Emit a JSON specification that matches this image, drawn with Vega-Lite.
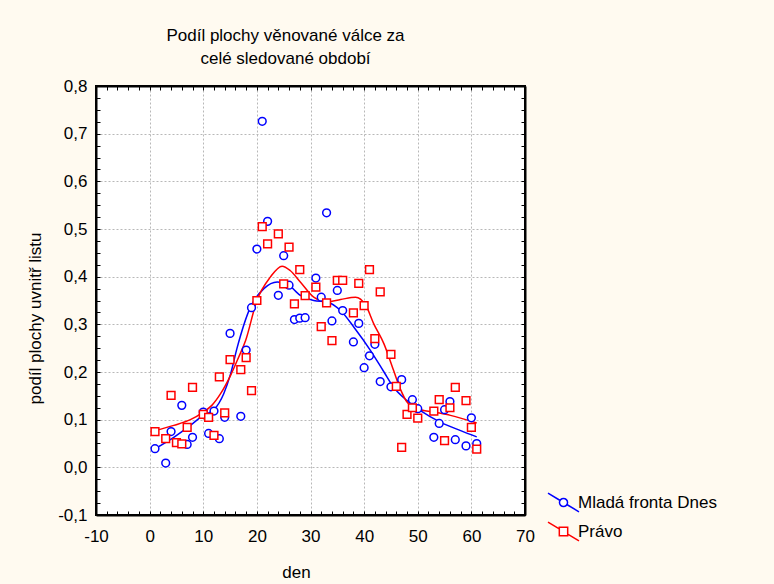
{
  "$schema": "https://vega.github.io/schema/vega-lite/v6.json",
  "autosize": "none",
  "width": 429,
  "height": 429,
  "padding": {"left": 96, "top": 86, "right": 249, "bottom": 69},
  "background": "#FFFAF0",
  "title": {
    "text": ["Podíl plochy věnované válce za", "celé sledované období"],
    "anchor": "middle",
    "dx": -25,
    "offset": 9,
    "font": "Liberation Sans",
    "fontSize": 17,
    "fontWeight": "normal",
    "lineHeight": 23,
    "color": "black"
  },
  "config": {
    "view": {"fill": "white", "stroke": "black", "strokeWidth": 2},
    "axis": {
      "labelFont": "Liberation Sans",
      "labelFontSize": 17,
      "labelColor": "black",
      "titleFont": "Liberation Sans",
      "titleFontSize": 17,
      "titleFontWeight": "normal",
      "titleColor": "black",
      "domainColor": "black",
      "domainWidth": 2,
      "tickColor": "black",
      "tickWidth": 1,
      "labelOverlap": false,
      "labelFlush": false
    },
    "legend": {
      "labelFont": "Liberation Sans",
      "labelFontSize": 17,
      "labelColor": "black"
    }
  },
  "datasets": {
    "pts": [
      {"noviny": "Mladá fronta Dnes", "den": 1, "podil": 0.039},
      {"noviny": "Mladá fronta Dnes", "den": 3, "podil": 0.009},
      {"noviny": "Mladá fronta Dnes", "den": 4, "podil": 0.075},
      {"noviny": "Mladá fronta Dnes", "den": 6, "podil": 0.130},
      {"noviny": "Mladá fronta Dnes", "den": 7, "podil": 0.048},
      {"noviny": "Mladá fronta Dnes", "den": 8, "podil": 0.063},
      {"noviny": "Mladá fronta Dnes", "den": 10, "podil": 0.116},
      {"noviny": "Mladá fronta Dnes", "den": 11, "podil": 0.071},
      {"noviny": "Mladá fronta Dnes", "den": 12, "podil": 0.118},
      {"noviny": "Mladá fronta Dnes", "den": 13, "podil": 0.060},
      {"noviny": "Mladá fronta Dnes", "den": 14, "podil": 0.105},
      {"noviny": "Mladá fronta Dnes", "den": 15, "podil": 0.281},
      {"noviny": "Mladá fronta Dnes", "den": 17, "podil": 0.107},
      {"noviny": "Mladá fronta Dnes", "den": 18, "podil": 0.246},
      {"noviny": "Mladá fronta Dnes", "den": 19, "podil": 0.335},
      {"noviny": "Mladá fronta Dnes", "den": 20, "podil": 0.458},
      {"noviny": "Mladá fronta Dnes", "den": 21, "podil": 0.726},
      {"noviny": "Mladá fronta Dnes", "den": 22, "podil": 0.516},
      {"noviny": "Mladá fronta Dnes", "den": 24, "podil": 0.361},
      {"noviny": "Mladá fronta Dnes", "den": 25, "podil": 0.444},
      {"noviny": "Mladá fronta Dnes", "den": 26, "podil": 0.382},
      {"noviny": "Mladá fronta Dnes", "den": 27, "podil": 0.310},
      {"noviny": "Mladá fronta Dnes", "den": 28, "podil": 0.313},
      {"noviny": "Mladá fronta Dnes", "den": 29, "podil": 0.314},
      {"noviny": "Mladá fronta Dnes", "den": 31, "podil": 0.397},
      {"noviny": "Mladá fronta Dnes", "den": 32, "podil": 0.357},
      {"noviny": "Mladá fronta Dnes", "den": 33, "podil": 0.534},
      {"noviny": "Mladá fronta Dnes", "den": 34, "podil": 0.307},
      {"noviny": "Mladá fronta Dnes", "den": 35, "podil": 0.371},
      {"noviny": "Mladá fronta Dnes", "den": 36, "podil": 0.329},
      {"noviny": "Mladá fronta Dnes", "den": 38, "podil": 0.263},
      {"noviny": "Mladá fronta Dnes", "den": 39, "podil": 0.302},
      {"noviny": "Mladá fronta Dnes", "den": 40, "podil": 0.209},
      {"noviny": "Mladá fronta Dnes", "den": 41, "podil": 0.234},
      {"noviny": "Mladá fronta Dnes", "den": 42, "podil": 0.258},
      {"noviny": "Mladá fronta Dnes", "den": 43, "podil": 0.180},
      {"noviny": "Mladá fronta Dnes", "den": 45, "podil": 0.169},
      {"noviny": "Mladá fronta Dnes", "den": 47, "podil": 0.184},
      {"noviny": "Mladá fronta Dnes", "den": 49, "podil": 0.142},
      {"noviny": "Mladá fronta Dnes", "den": 50, "podil": 0.123},
      {"noviny": "Mladá fronta Dnes", "den": 53, "podil": 0.063},
      {"noviny": "Mladá fronta Dnes", "den": 54, "podil": 0.092},
      {"noviny": "Mladá fronta Dnes", "den": 55, "podil": 0.121},
      {"noviny": "Mladá fronta Dnes", "den": 56, "podil": 0.138},
      {"noviny": "Mladá fronta Dnes", "den": 57, "podil": 0.058},
      {"noviny": "Mladá fronta Dnes", "den": 59, "podil": 0.045},
      {"noviny": "Mladá fronta Dnes", "den": 60, "podil": 0.104},
      {"noviny": "Mladá fronta Dnes", "den": 61, "podil": 0.050},
      {"noviny": "Právo", "den": 1, "podil": 0.075},
      {"noviny": "Právo", "den": 3, "podil": 0.060},
      {"noviny": "Právo", "den": 4, "podil": 0.151},
      {"noviny": "Právo", "den": 5, "podil": 0.052},
      {"noviny": "Právo", "den": 6, "podil": 0.049},
      {"noviny": "Právo", "den": 7, "podil": 0.084},
      {"noviny": "Právo", "den": 8, "podil": 0.168},
      {"noviny": "Právo", "den": 10, "podil": 0.111},
      {"noviny": "Právo", "den": 11, "podil": 0.105},
      {"noviny": "Právo", "den": 12, "podil": 0.067},
      {"noviny": "Právo", "den": 13, "podil": 0.190},
      {"noviny": "Právo", "den": 14, "podil": 0.114},
      {"noviny": "Právo", "den": 15, "podil": 0.226},
      {"noviny": "Právo", "den": 17, "podil": 0.205},
      {"noviny": "Právo", "den": 18, "podil": 0.230},
      {"noviny": "Právo", "den": 19, "podil": 0.161},
      {"noviny": "Právo", "den": 20, "podil": 0.350},
      {"noviny": "Právo", "den": 21, "podil": 0.505},
      {"noviny": "Právo", "den": 22, "podil": 0.469},
      {"noviny": "Právo", "den": 24, "podil": 0.490},
      {"noviny": "Právo", "den": 25, "podil": 0.385},
      {"noviny": "Právo", "den": 26, "podil": 0.462},
      {"noviny": "Právo", "den": 27, "podil": 0.343},
      {"noviny": "Právo", "den": 28, "podil": 0.415},
      {"noviny": "Právo", "den": 29, "podil": 0.360},
      {"noviny": "Právo", "den": 31, "podil": 0.378},
      {"noviny": "Právo", "den": 32, "podil": 0.295},
      {"noviny": "Právo", "den": 33, "podil": 0.345},
      {"noviny": "Právo", "den": 34, "podil": 0.266},
      {"noviny": "Právo", "den": 35, "podil": 0.392},
      {"noviny": "Právo", "den": 36, "podil": 0.392},
      {"noviny": "Právo", "den": 38, "podil": 0.324},
      {"noviny": "Právo", "den": 39, "podil": 0.386},
      {"noviny": "Právo", "den": 40, "podil": 0.339},
      {"noviny": "Právo", "den": 41, "podil": 0.415},
      {"noviny": "Právo", "den": 42, "podil": 0.270},
      {"noviny": "Právo", "den": 43, "podil": 0.368},
      {"noviny": "Právo", "den": 45, "podil": 0.237},
      {"noviny": "Právo", "den": 46, "podil": 0.170},
      {"noviny": "Právo", "den": 47, "podil": 0.042},
      {"noviny": "Právo", "den": 48, "podil": 0.111},
      {"noviny": "Právo", "den": 49, "podil": 0.125},
      {"noviny": "Právo", "den": 50, "podil": 0.103},
      {"noviny": "Právo", "den": 53, "podil": 0.118},
      {"noviny": "Právo", "den": 54, "podil": 0.142},
      {"noviny": "Právo", "den": 55, "podil": 0.056},
      {"noviny": "Právo", "den": 56, "podil": 0.125},
      {"noviny": "Právo", "den": 57, "podil": 0.168},
      {"noviny": "Právo", "den": 59, "podil": 0.140},
      {"noviny": "Právo", "den": 60, "podil": 0.084},
      {"noviny": "Právo", "den": 61, "podil": 0.038}
    ],
    "curve": [
      {"noviny": "Mladá fronta Dnes", "den": 1, "podil": 0.039},
      {"noviny": "Mladá fronta Dnes", "den": 4.5, "podil": 0.063},
      {"noviny": "Mladá fronta Dnes", "den": 7.6, "podil": 0.088},
      {"noviny": "Mladá fronta Dnes", "den": 10, "podil": 0.109},
      {"noviny": "Mladá fronta Dnes", "den": 12, "podil": 0.121},
      {"noviny": "Mladá fronta Dnes", "den": 13.8, "podil": 0.154},
      {"noviny": "Mladá fronta Dnes", "den": 15.1, "podil": 0.196},
      {"noviny": "Mladá fronta Dnes", "den": 16.3, "podil": 0.25},
      {"noviny": "Mladá fronta Dnes", "den": 18.8, "podil": 0.336},
      {"noviny": "Mladá fronta Dnes", "den": 21.3, "podil": 0.375},
      {"noviny": "Mladá fronta Dnes", "den": 23.8, "podil": 0.389},
      {"noviny": "Mladá fronta Dnes", "den": 25.6, "podil": 0.385},
      {"noviny": "Mladá fronta Dnes", "den": 28.1, "podil": 0.361},
      {"noviny": "Mladá fronta Dnes", "den": 30.6, "podil": 0.35},
      {"noviny": "Mladá fronta Dnes", "den": 33.1, "podil": 0.347},
      {"noviny": "Mladá fronta Dnes", "den": 35.6, "podil": 0.329},
      {"noviny": "Mladá fronta Dnes", "den": 38.1, "podil": 0.294},
      {"noviny": "Mladá fronta Dnes", "den": 41.2, "podil": 0.245},
      {"noviny": "Mladá fronta Dnes", "den": 43.7, "podil": 0.2},
      {"noviny": "Mladá fronta Dnes", "den": 45.5, "podil": 0.168},
      {"noviny": "Mladá fronta Dnes", "den": 48, "podil": 0.14},
      {"noviny": "Mladá fronta Dnes", "den": 50.5, "podil": 0.119},
      {"noviny": "Mladá fronta Dnes", "den": 54.2, "podil": 0.095},
      {"noviny": "Mladá fronta Dnes", "den": 58, "podil": 0.077},
      {"noviny": "Mladá fronta Dnes", "den": 61, "podil": 0.064},
      {"noviny": "Právo", "den": 1, "podil": 0.077},
      {"noviny": "Právo", "den": 4.5, "podil": 0.088},
      {"noviny": "Právo", "den": 7.6, "podil": 0.1},
      {"noviny": "Právo", "den": 10, "podil": 0.116},
      {"noviny": "Právo", "den": 11.6, "podil": 0.13},
      {"noviny": "Právo", "den": 13.2, "podil": 0.154},
      {"noviny": "Právo", "den": 15.1, "podil": 0.193},
      {"noviny": "Právo", "den": 16.6, "podil": 0.231},
      {"noviny": "Právo", "den": 17.9, "podil": 0.266},
      {"noviny": "Právo", "den": 20, "podil": 0.35},
      {"noviny": "Právo", "den": 22.5, "podil": 0.399},
      {"noviny": "Právo", "den": 24.7, "podil": 0.422},
      {"noviny": "Právo", "den": 26.2, "podil": 0.413},
      {"noviny": "Právo", "den": 28.1, "podil": 0.389},
      {"noviny": "Právo", "den": 30.6, "podil": 0.357},
      {"noviny": "Právo", "den": 33.1, "podil": 0.347},
      {"noviny": "Právo", "den": 35.6, "podil": 0.352},
      {"noviny": "Právo", "den": 38.4, "podil": 0.357},
      {"noviny": "Právo", "den": 40.3, "podil": 0.34},
      {"noviny": "Právo", "den": 41.8, "podil": 0.301},
      {"noviny": "Právo", "den": 43.7, "podil": 0.259},
      {"noviny": "Právo", "den": 45.5, "podil": 0.203},
      {"noviny": "Právo", "den": 46.8, "podil": 0.163},
      {"noviny": "Právo", "den": 48, "podil": 0.137},
      {"noviny": "Právo", "den": 49.9, "podil": 0.123},
      {"noviny": "Právo", "den": 53, "podil": 0.116},
      {"noviny": "Právo", "den": 56.1, "podil": 0.109},
      {"noviny": "Právo", "den": 61, "podil": 0.093}
    ]
  },
  "resolve": {"axis": {"x": "independent", "y": "independent"}},
  "layer": [
    {
      "data": {"name": "curve"},
      "mark": {"type": "line", "interpolate": "monotone", "strokeWidth": 1.5},
      "encoding": {
        "x": {
          "field": "den", "type": "quantitative",
          "scale": {"domain": [-10, 70], "nice": false, "zero": false},
          "axis": {
            "orient": "bottom",
            "values": [-10,-8,-6,-4,-2,0,2,4,6,8,10,12,14,16,18,20,22,24,26,28,30,32,34,36,38,40,42,44,46,48,50,52,54,56,58,60,62,64,66,68,70],
            "labelExpr": "datum.value % 10 == 0 ? replace(datum.label, '−', '-') : ''",
            "tickSize": -4,
            "labelPadding": 17,
            "grid": true,
            "gridColor": "#b8b8b8",
            "gridDash": [2, 2],
            "gridWidth": 1,
            "gridOpacity": {"condition": {"test": "datum.value % 10 == 0", "value": 1}, "value": 0},
            "title": "den",
            "titleX": 200,
            "titleY": 57,
            "titleBaseline": "middle"
          }
        },
        "y": {
          "field": "podil", "type": "quantitative",
          "scale": {"domain": [-0.1, 0.8], "nice": false, "zero": false},
          "axis": {
            "orient": "left",
            "values": [-0.1,-0.075,-0.05,-0.025,0,0.025,0.05,0.075,0.1,0.125,0.15,0.175,0.2,0.225,0.25,0.275,0.3,0.325,0.35,0.375,0.4,0.425,0.45,0.475,0.5,0.525,0.55,0.575,0.6,0.625,0.65,0.675,0.7,0.725,0.75,0.775,0.8],
            "labelExpr": "abs(datum.value*10 - round(datum.value*10)) < 0.001 ? replace(replace(format(datum.value, '.1f'), '.', ','), '−', '-') : ''",
            "tickSize": -4,
            "labelPadding": 13,
            "grid": true,
            "gridColor": "#b8b8b8",
            "gridDash": [2, 2],
            "gridWidth": 1,
            "gridOpacity": {"condition": {"test": "abs(datum.value*10 - round(datum.value*10)) < 0.001", "value": 1}, "value": 0},
            "title": "podíl plochy uvnitř listu",
            "titleX": -61,
            "titleY": 232,
            "titleBaseline": "middle"
          }
        },
        "color": {
          "field": "noviny", "type": "nominal",
          "scale": {"domain": ["Mladá fronta Dnes", "Právo"], "range": ["#0000FF", "#FF0000"]},
          "legend": {
            "title": null,
            "orient": "none",
            "legendX": 451,
            "legendY": 400,
            "padding": 0,
            "symbolSize": 961,
            "symbolStrokeWidth": 1.5,
            "symbolOpacity": 1,
            "symbolFillColor": "transparent",
            "labelOffset": -2,
            "rowPadding": -14
          }
        },
        "detail": {"field": "noviny"}
      }
    },
    {
      "data": {"name": "pts"},
      "transform": [{"filter": "datum.noviny === 'Mladá fronta Dnes'"}],
      "mark": {"type": "point", "shape": "circle", "filled": false, "fill": "white", "strokeWidth": 1.5, "size": 60, "opacity": 1},
      "encoding": {
        "x": {
          "field": "den", "type": "quantitative",
          "axis": {
            "orient": "top",
            "values": [-10,-8,-6,-4,-2,0,2,4,6,8,10,12,14,16,18,20,22,24,26,28,30,32,34,36,38,40,42,44,46,48,50,52,54,56,58,60,62,64,66,68,70],
            "labels": false,
            "tickSize": -4,
            "grid": false,
            "title": null
          }
        },
        "y": {
          "field": "podil", "type": "quantitative",
          "axis": {
            "orient": "right",
            "values": [-0.1,-0.075,-0.05,-0.025,0,0.025,0.05,0.075,0.1,0.125,0.15,0.175,0.2,0.225,0.25,0.275,0.3,0.325,0.35,0.375,0.4,0.425,0.45,0.475,0.5,0.525,0.55,0.575,0.6,0.625,0.65,0.675,0.7,0.725,0.75,0.775,0.8],
            "labels": false,
            "tickSize": -4,
            "grid": false,
            "title": null
          }
        },
        "color": {
          "field": "noviny", "type": "nominal",
          "scale": {"domain": ["Mladá fronta Dnes", "Právo"], "range": ["#0000FF", "#FF0000"]}
        }
      }
    },
    {
      "data": {"name": "pts"},
      "transform": [{"filter": "datum.noviny === 'Právo'"}],
      "mark": {"type": "point", "shape": "square", "filled": false, "fill": "white", "strokeWidth": 1.5, "size": 60, "opacity": 1},
      "encoding": {
        "x": {"field": "den", "type": "quantitative", "axis": null},
        "y": {"field": "podil", "type": "quantitative", "axis": null},
        "color": {
          "field": "noviny", "type": "nominal",
          "scale": {"domain": ["Mladá fronta Dnes", "Právo"], "range": ["#0000FF", "#FF0000"]}
        }
      }
    },
    {
      "data": {"name": "pts"},
      "mark": {"type": "point", "filled": false, "strokeWidth": 1.5, "opacity": 0},
      "encoding": {
        "x": {"field": "den", "type": "quantitative", "axis": null},
        "y": {"field": "podil", "type": "quantitative", "axis": null},
        "color": {
          "field": "noviny", "type": "nominal",
          "scale": {"domain": ["Mladá fronta Dnes", "Právo"], "range": ["#0000FF", "#FF0000"]}
        },
        "shape": {
          "field": "noviny", "type": "nominal",
          "scale": {
            "domain": ["Mladá fronta Dnes", "Právo"],
            "range": [
              "M-1,-0.6L-0.24,-0.144M0.24,0.144L1,0.6M0.26,0A0.26,0.26 0 1,1 -0.26,0A0.26,0.26 0 1,1 0.26,0Z",
              "M-1,-0.6L-0.3,-0.18M0.3,0.18L1,0.6M-0.27,-0.27H0.27V0.27H-0.27Z"
            ]
          },
          "legend": {
            "title": null,
            "orient": "none",
            "legendX": 451,
            "legendY": 400,
            "padding": 0,
            "symbolSize": 961,
            "symbolStrokeWidth": 1.5,
            "symbolOpacity": 1,
            "symbolFillColor": "transparent",
            "labelOffset": -2,
            "rowPadding": -14
          }
        }
      }
    }
  ]
}
